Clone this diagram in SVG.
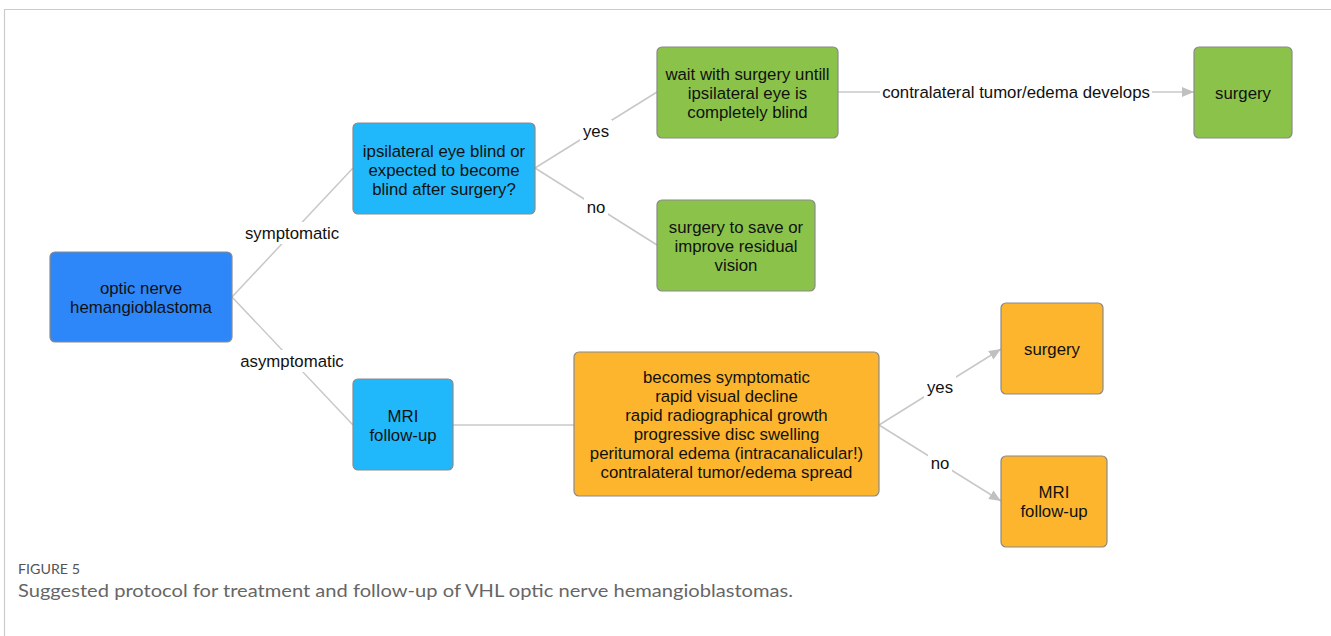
<svg xmlns="http://www.w3.org/2000/svg" width="1331" height="636" viewBox="0 0 1331 636">
<style>
.frame{stroke:#cccccc;stroke-width:1.2;fill:none}
.node rect{stroke:#8a8a8a;stroke-width:1.2}
.blue rect{fill:#2e87f8}
.lblue rect{fill:#20b8fb}
.green rect{fill:#8bc34a}
.orange rect{fill:#fcb52c}
.node text{font-family:"Liberation Sans",Arial,sans-serif;font-size:16.8px;fill:#111;text-anchor:middle}
.edge{stroke:#c8c8c8;stroke-width:1.5;fill:none}
.lbl{font-family:"Liberation Sans",Arial,sans-serif;font-size:16.8px;fill:#111;text-anchor:middle}
.lblbg{fill:#ffffff}
.cap1{font-family:"Lato","Open Sans",sans-serif;font-size:13.5px;fill:#555}
.cap2{font-family:"Lato","Open Sans",sans-serif;font-size:18px;fill:#666}
</style>
<defs>
<marker id="arr" viewBox="0 0 12 10" refX="12" refY="5" markerWidth="12" markerHeight="10" markerUnits="userSpaceOnUse" orient="auto">
<path d="M0,0 L12,5 L0,10 Z" fill="#c0c0c0"/>
</marker>
</defs>
<rect width="1331" height="636" fill="#ffffff"/>
<path class="frame" d="M4.5,636 L4.5,9.5 L1331,9.5"/>
<g id="connectors">
<line class="edge" x1="232" y1="297" x2="353" y2="168"/>
<line class="edge" x1="232" y1="297" x2="353" y2="425"/>
<line class="edge" x1="535" y1="168" x2="657" y2="92"/>
<line class="edge" x1="535" y1="168" x2="657" y2="245"/>
<line class="edge" x1="838" y1="92" x2="1194" y2="92" marker-end="url(#arr)"/>
<line class="edge" x1="453" y1="425" x2="574" y2="425"/>
<line class="edge" x1="879" y1="425" x2="1001" y2="349" marker-end="url(#arr)"/>
<line class="edge" x1="879" y1="425" x2="1001" y2="501" marker-end="url(#arr)"/>
<rect class="lblbg" x="244" y="222" width="98" height="22"/>
<text class="lbl" x="292" y="239">symptomatic</text>
<rect class="lblbg" x="240" y="350" width="106" height="22"/>
<text class="lbl" x="292" y="367">asymptomatic</text>
<rect class="lblbg" x="580" y="120" width="32" height="22"/>
<text class="lbl" x="596" y="137">yes</text>
<rect class="lblbg" x="584" y="196" width="24" height="22"/>
<text class="lbl" x="596" y="213">no</text>
<rect class="lblbg" x="880" y="81" width="272" height="22"/>
<text class="lbl" x="1016" y="98">contralateral tumor/edema develops</text>
<rect class="lblbg" x="924" y="376" width="32" height="22"/>
<text class="lbl" x="940" y="393">yes</text>
<rect class="lblbg" x="928" y="452" width="24" height="22"/>
<text class="lbl" x="940" y="469">no</text>
</g>
<g id="n1" class="node blue">
<rect x="50" y="252" width="182" height="90" rx="5"/>
<text x="141" y="293.5">optic nerve</text>
<text x="141" y="313">hemangioblastoma</text>
</g>
<g id="n2" class="node lblue">
<rect x="353" y="123" width="182" height="91" rx="5"/>
<text x="444" y="157">ipsilateral eye blind or</text>
<text x="444" y="176">expected to become</text>
<text x="444" y="195">blind after surgery?</text>
</g>
<g id="n3" class="node green">
<rect x="657" y="47" width="181" height="91" rx="5"/>
<text x="747.5" y="80">wait with surgery untill</text>
<text x="747.5" y="99">ipsilateral eye is</text>
<text x="747.5" y="118">completely blind</text>
</g>
<g id="n4" class="node green">
<rect x="657" y="200" width="158" height="91" rx="5"/>
<text x="736" y="233">surgery to save or</text>
<text x="736" y="252">improve residual</text>
<text x="736" y="271">vision</text>
</g>
<g id="n5" class="node green">
<rect x="1194" y="47" width="98" height="91" rx="5"/>
<text x="1243" y="98.5">surgery</text>
</g>
<g id="n6" class="node lblue">
<rect x="353" y="379" width="100" height="91" rx="5"/>
<text x="403" y="422">MRI</text>
<text x="403" y="441">follow-up</text>
</g>
<g id="n7" class="node orange">
<rect x="574" y="352" width="305" height="144" rx="5"/>
<text x="726.5" y="382.5">becomes symptomatic</text>
<text x="726.5" y="401.5">rapid visual decline</text>
<text x="726.5" y="420.5">rapid radiographical growth</text>
<text x="726.5" y="439.5">progressive disc swelling</text>
<text x="726.5" y="458.5">peritumoral edema (intracanalicular!)</text>
<text x="726.5" y="477.5">contralateral tumor/edema spread</text>
</g>
<g id="n8" class="node orange">
<rect x="1001" y="303" width="102" height="91" rx="5"/>
<text x="1052" y="354.5">surgery</text>
</g>
<g id="n9" class="node orange">
<rect x="1001" y="456" width="106" height="91" rx="5"/>
<text x="1054" y="498">MRI</text>
<text x="1054" y="517">follow-up</text>
</g>
<text class="cap1" x="18" y="574" textLength="62" lengthAdjust="spacingAndGlyphs">FIGURE 5</text>
<text class="cap2" x="18" y="597" textLength="775" lengthAdjust="spacingAndGlyphs">Suggested protocol for treatment and follow-up of VHL optic nerve hemangioblastomas.</text>
</svg>
